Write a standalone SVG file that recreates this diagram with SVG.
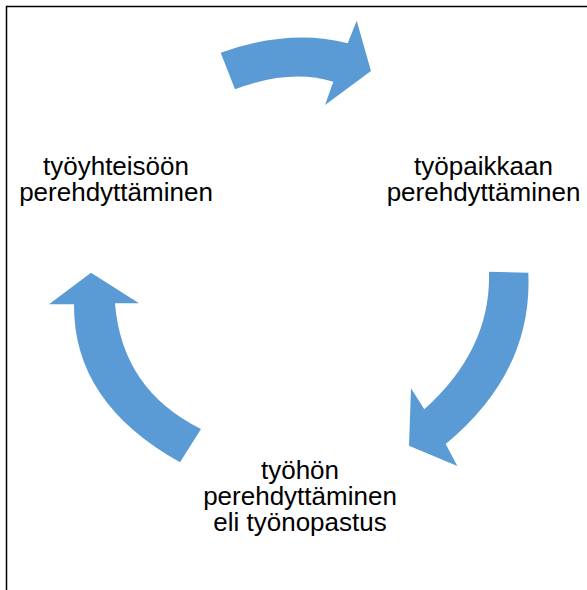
<svg xmlns="http://www.w3.org/2000/svg" width="587" height="590" viewBox="0 0 587 590">
<style>
.arrow{fill:#5B9BD5;stroke:none}
.lbl{font-family:"Liberation Sans",Arial,sans-serif;font-size:26px;fill:#000;text-anchor:middle}
.frame{stroke:#000;stroke-width:1.5;fill:none}
</style>
<rect width="587" height="590" fill="#fff"/>
<path class="frame" d="M6.5 590 V6.5 H587"/>
<g id="connectors">
<path id="arrow-top" class="arrow" d="M220.7 52.7 Q290 28 347.7 43.3 L356.7 20.7 L371 71 L325 105 L333.3 81.7 Q290 68.5 235 89.3 Z"/>
<path id="arrow-right" class="arrow" d="M528.3 272.7 Q533 371.6 445.7 444 L457.3 466 L409 445.7 L411 388.3 L424.3 409.3 Q491.3 349.5 489 271.7 Z"/>
<path id="arrow-left" class="arrow" d="M180 462.3 Q73 402.7 74 304.3 L49 304.3 L91 272.7 L139 303.3 L115 303.3 Q122 390 201 429 Z"/>
</g>
<g id="node-tyopaikkaan">
<text class="lbl" x="483.5" y="175">työpaikkaan</text>
<text class="lbl" x="483.5" y="201">perehdyttäminen</text>
</g>
<g id="node-tyohon">
<text class="lbl" x="300" y="479">työhön</text>
<text class="lbl" x="300" y="505">perehdyttäminen</text>
<text class="lbl" x="300" y="531">eli työnopastus</text>
</g>
<g id="node-tyoyhteisoon">
<text class="lbl" x="116" y="175">työyhteisöön</text>
<text class="lbl" x="116" y="201">perehdyttäminen</text>
</g>
</svg>
